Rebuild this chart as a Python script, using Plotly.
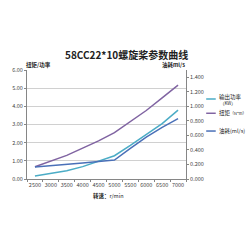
import plotly.graph_objects as go

speeds = ["2500", "3000", "3500", "4000", "4500", "5000", "5500", "6000", "6500", "7000"]
power_kw = [0.16, 0.30, 0.45, 0.68, 0.97, 1.28, 1.85, 2.45, 3.05, 3.79]
torque_nm = [0.67, 0.98, 1.30, 1.70, 2.10, 2.55, 3.15, 3.77, 4.47, 5.17]
fuel_mls = [0.165, 0.18, 0.20, 0.22, 0.24, 0.26, 0.42, 0.575, 0.71, 0.83]

left_ticks = [0, 1, 2, 3, 4, 5, 6]
right_ticks = [0, 0.2, 0.4, 0.6, 0.8, 1.0, 1.2, 1.4]

c_power = "#4bacc6"
c_torque = "#8064a2"
c_fuel = "#4a70b8"
FONT = "Noto Sans CJK SC"

fig = go.Figure()
fig.add_trace(go.Scatter(x=speeds, y=power_kw, mode="lines", line=dict(color=c_power, width=1.5), showlegend=False))
fig.add_trace(go.Scatter(x=speeds, y=torque_nm, mode="lines", line=dict(color=c_torque, width=1.5), showlegend=False))
fig.add_trace(go.Scatter(x=speeds, y=fuel_mls, mode="lines", line=dict(color=c_fuel, width=1.5), yaxis="y2", showlegend=False))

tickfont = dict(family=FONT, size=5.5, color="#444")
fig.update_layout(
    width=250, height=250,
    margin=dict(l=20, r=64, t=70, b=71),
    paper_bgcolor="white", plot_bgcolor="white",
    font=dict(family=FONT),
    xaxis=dict(type="category", range=[-0.5, 9.5], tickson="boundaries", ticks="outside", ticklen=2,
               tickcolor="#868686", showline=True, linecolor="#868686", linewidth=1,
               showgrid=False, tickfont=tickfont, tickangle=0),
    yaxis=dict(range=[0, 6], tickvals=left_ticks, tickformat=".2f", showgrid=True, gridcolor="#d0d0d0",
               gridwidth=1, showline=True, linecolor="#868686", ticks="outside", ticklen=2,
               tickcolor="#868686", tickfont=tickfont, zeroline=False),
    yaxis2=dict(range=[0, 1.5], tickvals=right_ticks, tickformat=".3f", overlaying="y", side="right",
                showgrid=False, showline=True, linecolor="#868686", ticks="outside", ticklen=2,
                tickcolor="#868686", tickfont=tickfont, zeroline=False),
)

ann = [
    dict(text="<b>58CC22*10螺旋桨参数曲线</b>", x=0.627, y=1.138, font=dict(size=10, color="#222")),
    dict(text="<b>扭矩/功率</b>", x=0.072, y=1.046, font=dict(size=5.5, color="#222")),
    dict(text="<b>油耗ml/s</b>", x=0.92, y=1.046, font=dict(size=5.5, color="#222")),
    dict(text="<b>转速：</b>r/min", x=0.512, y=-0.156, font=dict(size=5.5, color="#222")),
    dict(text="输出功率", x=1.193, y=0.752, xanchor="left", font=dict(size=5.5, color="#222")),
    dict(text="（KW）", x=1.265, y=0.694, font=dict(size=4.5, color="#222")),
    dict(text="扭矩<span style='font-size:4px'>（N*m）</span>", x=1.193, y=0.603, xanchor="left", font=dict(size=5.5, color="#222")),
    dict(text="油耗(ml/s)", x=1.193, y=0.44, xanchor="left", font=dict(size=5.5, color="#222")),
]
for a in ann:
    a.setdefault("xanchor", "center")
    fig.add_annotation(xref="paper", yref="paper", showarrow=False, yanchor="middle", **a)

for yy, col in [(0.734, c_power), (0.603, c_torque), (0.44, c_fuel)]:
    fig.add_shape(type="line", xref="paper", yref="paper", x0=1.127, x1=1.187, y0=yy, y1=yy,
                  line=dict(color=col, width=1.5))

fig.write_html("out.html")
